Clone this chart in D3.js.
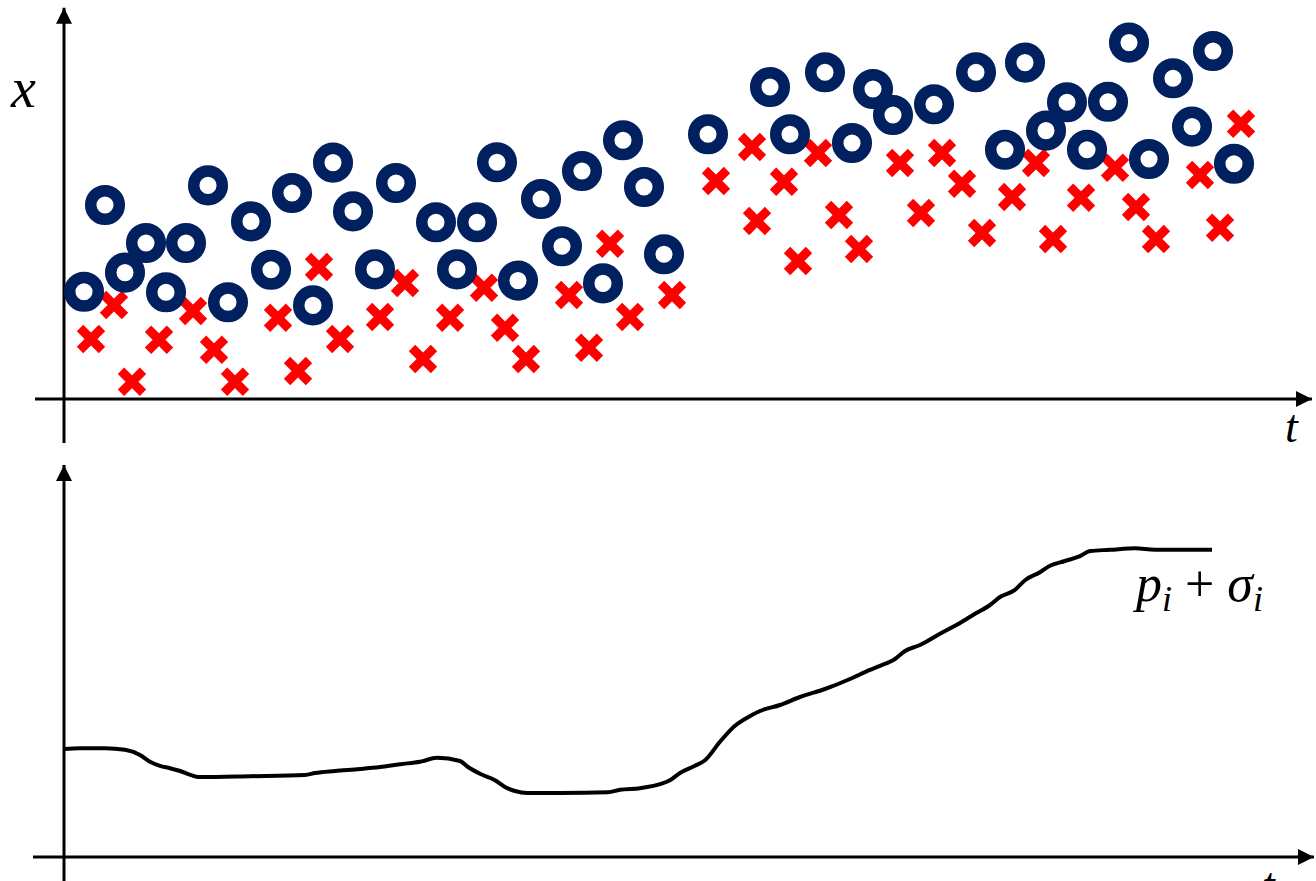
<!DOCTYPE html>
<html>
<head>
<meta charset="utf-8">
<script src="https://cdn.jsdelivr.net/npm/d3@7"></script>
<style>
  body { margin: 0; background: #fff; }
  svg { display: block; }
  .lbl { font-family: "Liberation Serif", "DejaVu Serif", serif; font-style: italic; fill: #000; }
</style>
</head>
<body>
<svg id="chart" width="1316" height="881"></svg>
<script>
// circles (t, x) in the top panel
const circleT = [2.0, 4.1, 6.1, 8.2, 10.2, 12.2, 14.4, 16.4, 18.7, 20.7, 22.8, 24.9, 26.9, 28.9, 31.1, 33.2,
  37.2, 39.3, 41.3, 43.3, 45.4, 47.7, 49.8, 51.8, 53.9, 55.9, 58.0, 60.0, 64.4, 70.6, 72.6, 76.1, 78.8,
  80.9, 82.9, 87.0, 91.2, 94.1, 96.1, 98.2, 100.3, 102.3, 104.4, 106.5, 108.5, 110.9, 112.8, 114.9, 117.0];
const circleX = [26.8, 48.5, 31.6, 39, 26.7, 39, 53.4, 24.2, 44.4, 32.3, 51.5, 23.4, 59.1, 46.9, 32.4, 54,
  44.2, 32.4, 44.2, 59.2, 29.6, 50, 38.2, 57, 28.9, 64.7, 53, 36.2, 66.2, 78, 66.2, 81.7, 64,
  77.5, 71, 73.7, 81.7, 62.3, 84.1, 67.1, 74.2, 62.3, 74.3, 89.1, 60, 80.2, 68.1, 87, 58.8];

// crosses (t, x) in the top panel
const crossT = [2.7, 5.0, 6.8, 9.5, 12.9, 15.0, 17.1, 21.4, 23.4, 25.5, 27.6, 31.6, 34.1, 35.9, 38.6,
  42.0, 44.1, 46.2, 50.5, 52.5, 54.6, 56.6, 60.8, 65.2, 68.8, 69.3, 72.0, 73.4, 75.4, 77.5, 79.5,
  83.6, 85.7, 87.8, 89.8, 91.8, 94.8, 97.2, 98.9, 101.7, 105.1, 107.2, 109.2, 113.6, 115.6, 117.7];
const crossX = [15, 23.5, 4.3, 14.8, 22, 12.3, 4.3, 20.3, 7, 33, 15, 20.5, 29, 10, 20.3,
  27.8, 17.8, 10, 26, 12.8, 38.8, 20.5, 26, 54.5, 63, 44.5, 54.3, 34.5, 61.5, 46, 37.5,
  59, 46.5, 61.5, 53.8, 41.5, 50.5, 59, 40, 50.3, 57.8, 48, 40, 56, 42.8, 68.8];

// line p_i + sigma_i in the bottom panel
const lineT = [0, 1.6, 4.1, 6.1, 7.6, 8.6, 9.6, 10.6, 11.6, 13.6, 18.6, 24.1, 25.1, 27.1, 29.6, 31.6,
  33.6, 35.6, 37.3, 39.6, 40.4, 41.6, 43.1, 44.1, 45.1, 46.3, 49.6, 54.4, 55.6, 57.6, 59.6, 60.6,
  61.6, 63.1, 64.1, 65.6, 67.1, 68.1, 69.6, 71.6, 73.6, 76.1, 78.6, 80.6, 81.6, 83.1, 84.1, 85.6,
  87.6, 89.6, 91.1, 92.6, 93.6, 95.1, 96.1, 97.6, 98.6, 100.1, 101.6, 102.6, 104.6, 107.1, 109.1, 114.8];
const lineV = [27, 27.2, 27.2, 26.8, 25.5, 23.8, 22.8, 22.2, 21.5, 20, 20.2, 20.5, 21, 21.5, 22, 22.5,
  23.2, 23.8, 24.8, 24, 22.5, 20.8, 19.2, 17.5, 16.5, 16, 16, 16.2, 16.8, 17.2, 18.2, 19.2,
  21, 22.8, 24.2, 28.8, 32.8, 34.5, 36.5, 38, 40, 42, 44.5, 46.8, 47.8, 49.5, 51.5, 53,
  55.8, 58.5, 60.8, 63, 65, 66.8, 69.2, 71.2, 72.8, 74, 75.2, 76.5, 76.8, 77.2, 76.8, 76.8];

const svg = d3.select("#chart");

const t = d3.scaleLinear().domain([0, 125]).range([64, 1314]);
const yTop = d3.scaleLinear().domain([0, 100]).range([399, -1]);
const yBot = d3.scaleLinear().domain([0, 100]).range([857, 457]);

// arrow head
svg.append("defs").append("marker")
  .attr("id", "arrow")
  .attr("markerUnits", "userSpaceOnUse")
  .attr("viewBox", "0 0 16 16")
  .attr("refX", 16).attr("refY", 8)
  .attr("markerWidth", 16).attr("markerHeight", 16)
  .attr("orient", "auto")
  .append("path")
  .attr("d", "M0,0L16,8L0,16Z")
  .attr("fill", "#000");

const axes = svg.append("g")
  .attr("stroke", "#000")
  .attr("stroke-width", 3);

// top panel axes
axes.append("line")
  .attr("x1", t(-2.9)).attr("x2", t(124.8))
  .attr("y1", yTop(0)).attr("y2", yTop(0))
  .attr("marker-end", "url(#arrow)");
axes.append("line")
  .attr("x1", t(0)).attr("x2", t(0))
  .attr("y1", yTop(-11)).attr("y2", yTop(97.8))
  .attr("marker-end", "url(#arrow)");

// bottom panel axes
axes.append("line")
  .attr("x1", t(-3.1)).attr("x2", t(125))
  .attr("y1", yBot(0)).attr("y2", yBot(0))
  .attr("marker-end", "url(#arrow)");
axes.append("line")
  .attr("x1", t(0)).attr("x2", t(0))
  .attr("y1", yBot(-7)).attr("y2", yBot(98))
  .attr("marker-end", "url(#arrow)");

// crosses
const crosses = d3.zip(crossT, crossX);
svg.append("g")
  .selectAll("path")
  .data(crosses)
  .enter().append("path")
  .attr("transform", d => "translate(" + t(d[0]) + "," + yTop(d[1]) + ")")
  .attr("d", "M-11,-11L11,11M11,-11L-11,11")
  .attr("stroke", "#ff0000")
  .attr("stroke-width", 9)
  .attr("fill", "none");

// circles
const circles = d3.zip(circleT, circleX);
svg.append("g")
  .selectAll("circle")
  .data(circles)
  .enter().append("circle")
  .attr("cx", d => t(d[0]))
  .attr("cy", d => yTop(d[1]))
  .attr("r", 14.3)
  .attr("fill", "none")
  .attr("stroke", "#002060")
  .attr("stroke-width", 11.5);

// bottom line
const line = d3.line()
  .x(d => t(d[0]))
  .y(d => yBot(d[1]))
  .curve(d3.curveMonotoneX);

svg.append("path")
  .datum(d3.zip(lineT, lineV))
  .attr("d", line)
  .attr("fill", "none")
  .attr("stroke", "#000")
  .attr("stroke-width", 4)
  .attr("stroke-linejoin", "round");

// labels
svg.append("text").attr("class", "lbl")
  .attr("x", 11).attr("y", 107)
  .style("font-size", "56px")
  .text("x");

svg.append("text").attr("class", "lbl")
  .attr("x", 1285).attr("y", 442)
  .style("font-size", "46px")
  .text("t");

svg.append("text").attr("class", "lbl")
  .attr("x", 1262).attr("y", 900)
  .style("font-size", "46px")
  .text("t");

const pl = svg.append("text").attr("class", "lbl")
  .attr("x", 1136).attr("y", 601)
  .style("font-size", "52px");
pl.append("tspan").text("p");
pl.append("tspan").attr("dy", 10).style("font-size", "36px").text("i");
pl.append("tspan").attr("dy", -10).style("font-style", "normal").text(" + ");
pl.append("tspan").text("σ");
pl.append("tspan").attr("dy", 10).style("font-size", "36px").text("i");
</script>
</body>
</html>
